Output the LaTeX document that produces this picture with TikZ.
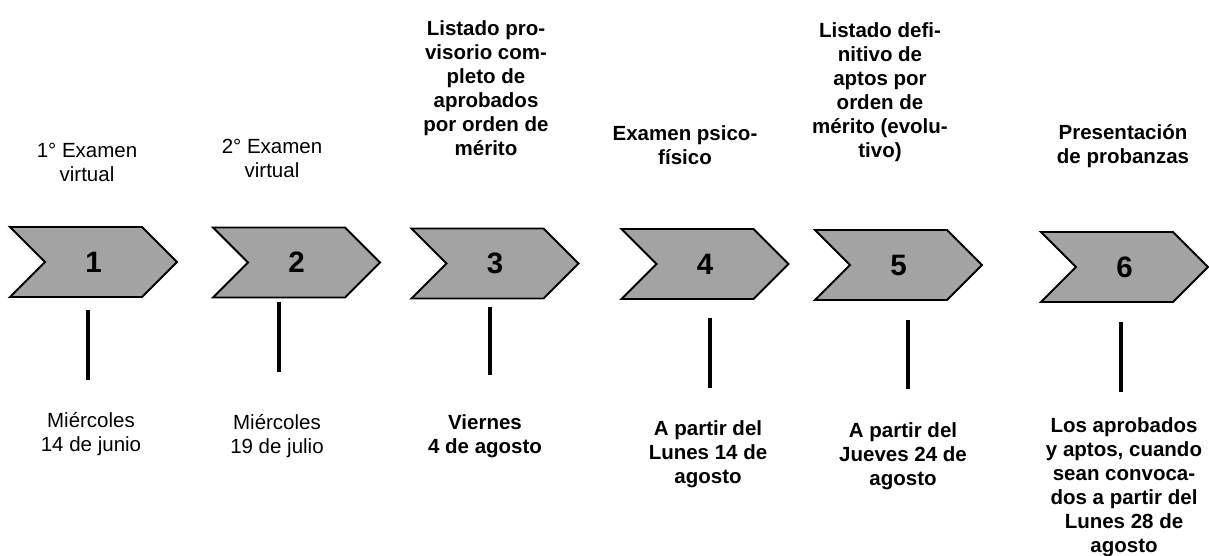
\documentclass[tikz,border=0pt]{standalone}
\usepackage{fontspec}
\setmainfont{Liberation Sans}
\usepackage{tikz}
\usetikzlibrary{shapes.symbols}

\definecolor{chevron gray}{RGB}{163,163,163}

\begin{document}
\begin{tikzpicture}[x=1pt, y=-1pt,
		stage/.style={signal, signal from=west, signal to=east, signal pointer angle=90,
			draw=black, line width=1.9pt, fill=chevron gray, minimum width=167pt, minimum height=70pt,
			inner sep=0pt, font=\bfseries\fontsize{29.5}{29.5}\selectfont},
		plain text/.style={align=center, inner sep=0pt, font=\fontsize{20.5}{24}\selectfont},
		bold text/.style={align=center, inner sep=0pt, font=\bfseries\fontsize{20.5}{24}\selectfont},
		tick/.style={line width=3.2pt}]

			\useasboundingbox (0,0) rectangle (1209,556);

			\node[stage] (stage 1) at (93.5,262) {1};
			\node[stage] (stage 2) at (296.5,262.5) {2};
			\node[stage] (stage 3) at (495,263.5) {3};
			\node[stage] (stage 4) at (705,264) {4};
			\node[stage] (stage 5) at (898.5,265) {5};
			\node[stage] (stage 6) at (1124.5,267) {6};

			\begin{scope}[plain text]
				\node (what 1) at (87,162) {1° Examen\\virtual};
				\node (what 2) at (272,158) {2° Examen\\virtual};
				\node (when 1) at (91,434) {Miércoles\\14 de junio};
				\node (when 2) at (277,436) {Miércoles\\19 de julio};
			\end{scope}

			\begin{scope}[bold text]
				\node (what 3) at (486,88) {Listado pro-\\visorio com-\\pleto de\\aprobados\\por orden de\\mérito};
				\node (what 4) at (685,145) {Examen psico-\\físico};
				\node (what 5) at (880,92) {Listado defi-\\nitivo de\\aptos por\\orden de\\mérito (evolu-\\tivo)};
				\node (what 6) at (1123,146) {Presentación\\de probanzas};
				\node (when 3) at (485,436) {Viernes\\4 de agosto};
				\node (when 4) at (708,454) {A partir del\\Lunes 14 de\\agosto};
				\node (when 5) at (903,456) {A partir del\\Jueves 24 de\\agosto};
				\node (when 6) at (1124,487) {Los aprobados\\y aptos, cuando\\sean convoca-\\dos a partir del\\Lunes 28 de\\agosto};
			\end{scope}

			\foreach \i/\x/\a/\b in {1/88/310/380, 2/279/302/372, 3/490/307/375, 4/710/318/388, 5/908/320/389, 6/1121/322/392}
			{
				\coordinate (tick top \i) at (\x,\a);
				\coordinate (tick end \i) at (\x,\b);
				\draw[tick] (tick top \i) -- (tick end \i);
			}
		\end{tikzpicture}
\end{document}
